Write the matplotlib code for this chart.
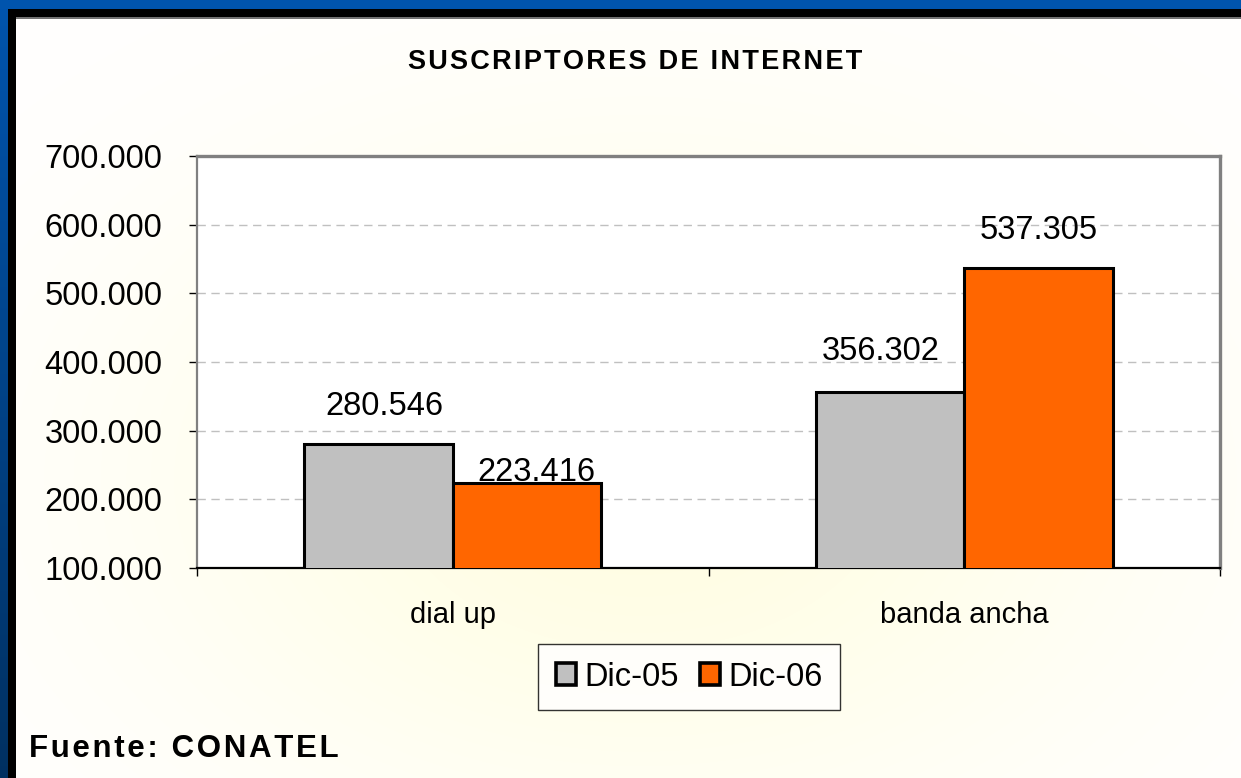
import numpy as np
import matplotlib
matplotlib.use("Agg")
import matplotlib.pyplot as plt

# data
categorias = ["dial up", "banda ancha"]
series = ["Dic-05", "Dic-06"]
dic05 = [280546, 356302]
dic06 = [223416, 537305]
yticks = [100000, 200000, 300000, 400000, 500000, 600000, 700000]
titulo = "SUSCRIPTORES DE INTERNET"
fuente = "Fuente: CONATEL"

W, H = 1241, 778
plt.rcParams['font.family'] = ['Liberation Sans', 'DejaVu Sans']

fig = plt.figure(figsize=(W / 100, H / 100), dpi=100)

# fondo: blanco con brillo amarillo suave + borde azul/negro
yy, xx = np.mgrid[0:H, 0:W]
r2 = ((xx - 640) / 620.0) ** 2 + ((yy - 480) / 420.0) ** 2
glow = np.exp(-r2 * 1.5)
bg = np.ones((H, W, 3))
bg[..., 2] = 1 - 0.11 * glow
bg[..., 1] = 1 - 0.005 * glow
# banda azul izquierda (gradiente) y superior
t = np.linspace(0, 1, H)[:, None]
top_blue = np.array([0.0, 0.33, 0.68])
bot_blue = np.array([0.0, 0.19, 0.38])
bg[:, :8, :] = (top_blue * (1 - t) + bot_blue * t)[:, None, :] * np.ones((1, 8, 1))
bg[:9, :, :] = top_blue
bg[9:17, 8:, :] = 0.0
bg[9:, 8:16, :] = 0.0
bg[17:19, 16:, :] = 0.45
fig.figimage(bg, xo=0, yo=0, origin='upper', zorder=-10)

ax = fig.add_axes([197 / W, 1 - 568 / H, 1023 / W, 412 / H])
ax.set_facecolor("white")

x = np.arange(len(categorias))
w = 0.29
b1 = ax.bar(x - w / 2, dic05, w, bottom=0, color="#C0C0C0", edgecolor="black",
            linewidth=2.2, label=series[0], zorder=3)
b2 = ax.bar(x + w / 2, dic06, w, bottom=0, color="#FF6600", edgecolor="black",
            linewidth=2.2, label=series[1], zorder=3)

ax.set_ylim(yticks[0], yticks[-1])
ax.set_xlim(-0.5, len(categorias) - 0.5)

ax.set_yticks(yticks)
ax.set_yticklabels([f"{v:,.0f}".replace(",", ".") for v in yticks], fontsize=23.5)
ax.tick_params(axis="y", length=6, width=1, color="black", pad=19, direction="out")

ax.set_xticks(x)
ax.set_xticklabels(categorias, fontsize=21)
ax.set_xticks([-0.5, 0.5, 1.5], minor=True)
ax.tick_params(axis="x", which="major", length=0, pad=24)
ax.tick_params(axis="x", which="minor", length=6, width=1, color="black")

ax.grid(axis="y", color="#C0C0C0", linestyle=(0, (6, 4)), linewidth=1, zorder=0)

for s in ["top", "right"]:
    ax.spines[s].set_color("#808080")
    ax.spines[s].set_linewidth(2.4)
ax.spines["left"].set_color("#808080")
ax.spines["left"].set_linewidth(1.6)
ax.spines["bottom"].set_color("black")
ax.spines["bottom"].set_linewidth(1.6)

# etiquetas de valor (desplazamiento como en el original)
offs = [[(4, 27), (7, 8)], [(-7, 29), (0, 27)]]
for j, bars in enumerate([b1, b2]):
    for i, rect in enumerate(bars):
        v = rect.get_height()
        dx, dy = offs[i][j]
        ax.annotate(f"{v:,.0f}".replace(",", "."),
                    (rect.get_x() + rect.get_width() / 2, v),
                    xytext=(dx, dy), textcoords="offset points",
                    ha="center", va="center", fontsize=23.5, zorder=5)

leg = ax.legend(loc="center", bbox_to_anchor=(689 / W, 1 - 677 / H),
                bbox_transform=fig.transFigure, ncol=2, fontsize=23.5,
                frameon=True, fancybox=False, handlelength=0.62, handleheight=0.62,
                handletextpad=0.25, columnspacing=0.65, borderpad=0.55,
                borderaxespad=0)
leg.get_frame().set_edgecolor("black")
leg.get_frame().set_linewidth(1.0)
for hdl in leg.legend_handles:
    hdl.set_linewidth(2.6)


def espaciado(s):
    return "\u200a".join(s)


fig.text(635 / W, 1 - 69 / H, espaciado(titulo), ha="center", va="baseline",
         fontsize=19.5, fontweight="bold")
fig.text(29 / W, 1 - 757 / H, espaciado(fuente), ha="left", va="baseline",
         fontsize=22.5, fontweight="bold")

fig.savefig("out.png", dpi=100)
